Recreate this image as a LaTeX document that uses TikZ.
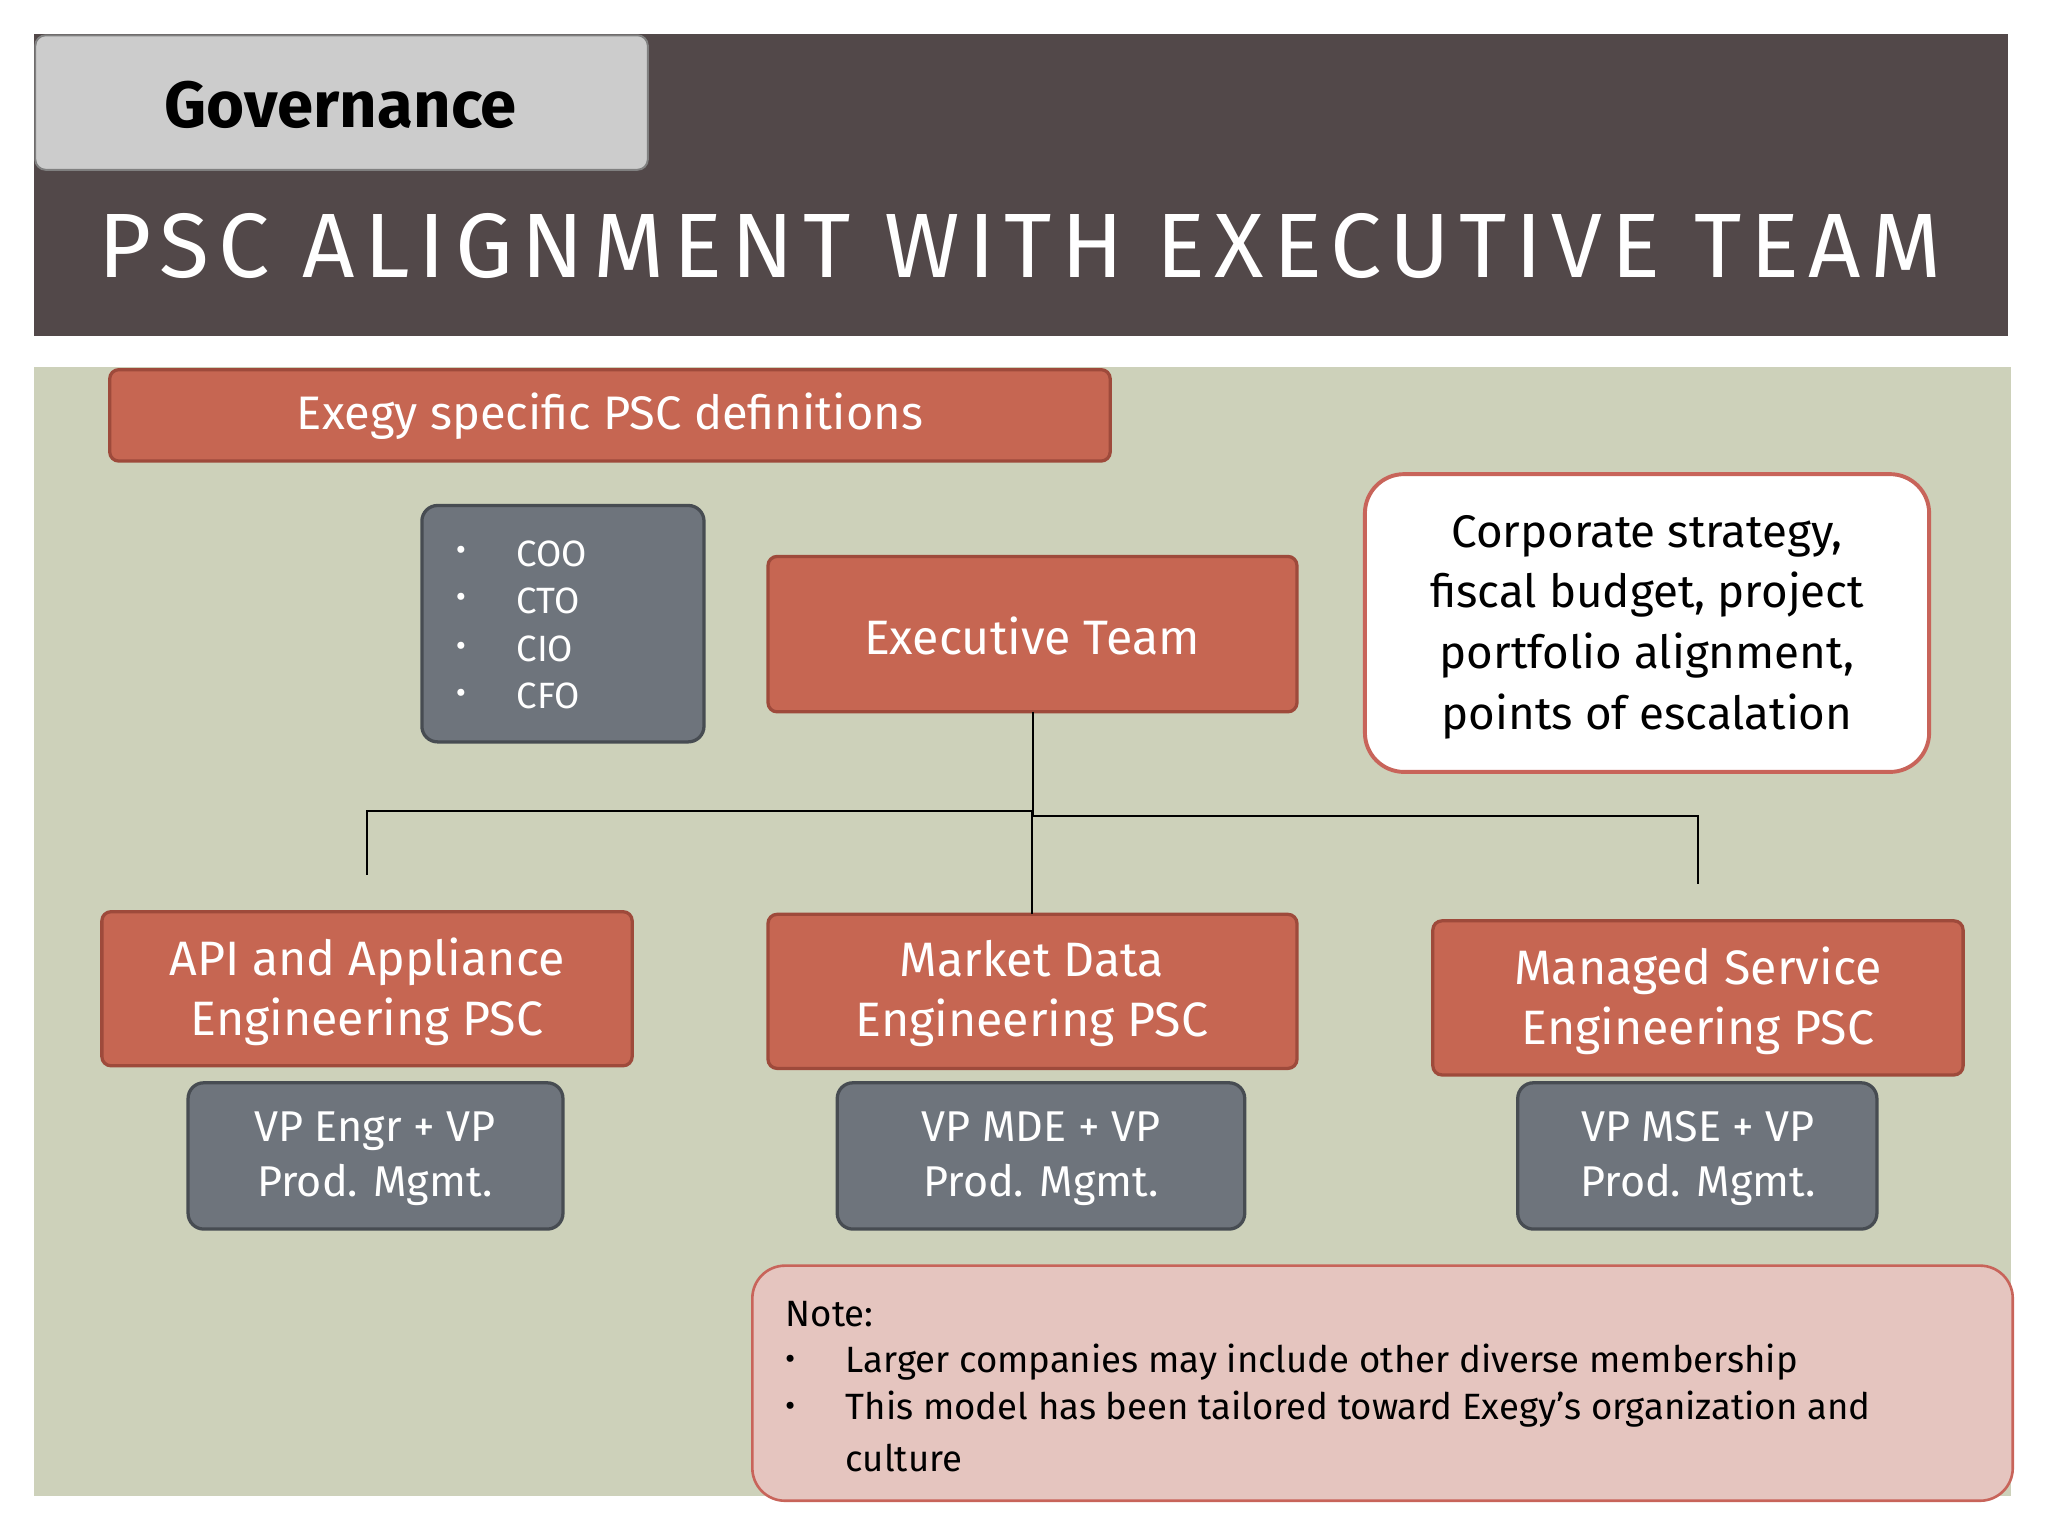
\documentclass[tikz,border=0pt]{standalone}
\usepackage{fontspec}
\setmainfont{Fira Sans}
\begin{document}
\begin{tikzpicture}[x=1pt,y=-1pt,
  red/.style={fill=boxred,draw=boxredd,line width=2.5pt,rounded corners=7pt,text=white},
  grey/.style={fill=boxgrey,draw=boxgreyd,line width=2.5pt,rounded corners=12pt,text=white},
  conn/.style={line width=1.5pt,black}]
\definecolor{band}{HTML}{524849}
\definecolor{panel}{HTML}{CDD1BA}
\definecolor{boxred}{HTML}{C66652}
\definecolor{boxredd}{HTML}{9E4A3B}
\definecolor{boxgrey}{HTML}{6E747C}
\definecolor{boxgreyd}{HTML}{474C52}
\definecolor{notefill}{HTML}{E5C5BF}
\definecolor{noteline}{HTML}{C8645A}
\useasboundingbox (0,0) rectangle (1568,1176);
\fill[white] (0,0) rectangle (1568,1176);
\fill[band] (26,26) rectangle (1537,257);
\draw[fill=gray!40!white,draw=gray,line width=1.5pt,rounded corners=8pt] (27,27) rectangle (496,130);
\node[font=\fontsize{50}{56}\selectfont\bfseries] (gov) at (261,80) {Governance};
\node[text=white,font=\fontsize{70}{76}\selectfont\addfontfeature{LetterSpace=10}] (title) at (781,188) {PSC ALIGNMENT WITH EXECUTIVE TEAM};
\fill[panel] (26,281) rectangle (1540,1145);
% boxes
\draw[red] (84,283) rectangle (850,353);
\node[text=white,font=\fontsize{36}{40}\selectfont] (exegy) at (467,319) {Exegy specific PSC definitions};
\draw[grey] (323,387) rectangle (539,568);
\foreach \t/\y in {COO/424,CTO/460,CIO/497,CFO/533}{
  \node[text=white,font=\fontsize{24}{24}\selectfont] at (353,\y) {•};
  \node[text=white,anchor=west,font=\fontsize{28}{32}\selectfont] at (392,\y) {\t};}
\draw[red] (588,426) rectangle (993,545);
\node[text=white,font=\fontsize{37}{42}\selectfont] (exec) at (790,487) {Executive Team};
\draw[fill=white,draw=noteline,line width=3pt,rounded corners=30pt] (1045,363) rectangle (1477,591);
\node[align=center,text=black,font=\fontsize{35}{46.5}\selectfont] (corp) at (1261,480) {Corporate strategy,\\ fiscal budget, project\\ portfolio alignment,\\ points of escalation};
% PSC boxes
\draw[red] (78,698) rectangle (484,816);
\node[align=center,text=white,font=\fontsize{37}{46}\selectfont] (api) at (281,759) {API and Appliance\\ Engineering PSC};
\draw[red] (588,700) rectangle (993,818);
\node[align=center,text=white,font=\fontsize{37}{46}\selectfont] (mde) at (790,761) {Market Data\\ Engineering PSC};
\draw[red] (1097,705) rectangle (1503,823);
\node[align=center,text=white,font=\fontsize{37}{46}\selectfont] (mse) at (1300,766) {Managed Service\\ Engineering PSC};
% connectors
\coordinate (j1) at (791,621);
\coordinate (aT) at (281,670);
\coordinate (mT) at (1300,677);
\draw[conn] (791,545) -- (791,625);
\draw[conn] (j1) -- (281,621) -- (aT);
\draw[conn] (791,625) -- (1300,625) -- (mT);
\draw[conn] (790,622) -- (790,700);
% VP boxes
\draw[grey] (144,829) rectangle (431,941);
\node[align=center,text=white,font=\fontsize{33}{42}\selectfont] at (287,887) {VP Engr + VP\\ Prod. Mgmt.};
\draw[grey] (641,829) rectangle (953,941);
\node[align=center,text=white,font=\fontsize{33}{42}\selectfont] at (797,887) {VP MDE + VP\\ Prod. Mgmt.};
\draw[grey] (1162,829) rectangle (1437,941);
\node[align=center,text=white,font=\fontsize{33}{42}\selectfont] at (1300,887) {VP MSE + VP\\ Prod. Mgmt.};
% note
\draw[fill=notefill,draw=noteline,line width=2pt,rounded corners=25pt] (576,969) rectangle (1541,1149);
\tikzset{nt/.style={anchor=west,font=\fontsize{28}{32}\selectfont}}
\node[nt] at (598,1006) {Note:};
\node[font=\fontsize{24}{24}\selectfont] at (605,1043) {•};
\node[font=\fontsize{24}{24}\selectfont] at (605,1079) {•};
\node[nt] at (644,1043) {Larger companies may include other diverse membership};
\node[nt] at (644,1079) {This model has been tailored toward Exegy’s organization and};
\node[nt] at (644,1116) {culture};
\end{tikzpicture}
\end{document}
